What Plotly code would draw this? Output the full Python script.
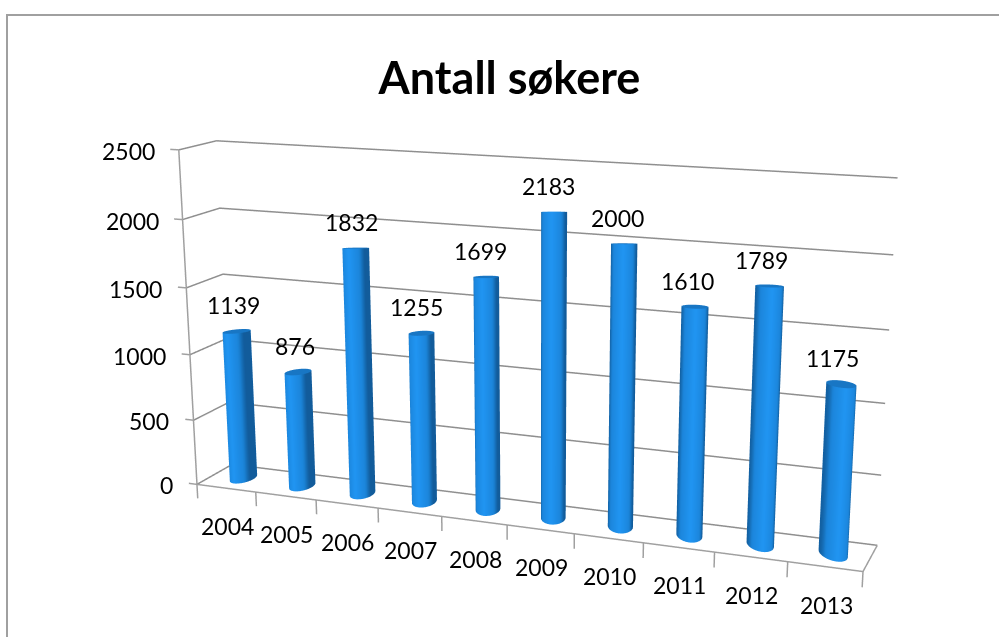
import numpy as np
import plotly.graph_objects as go

years = ["2004","2005","2006","2007","2008","2009","2010","2011","2012","2013"]
values = [1139,876,1832,1255,1699,2183,2000,1610,1789,1175]
z_ticks = [0,500,1000,1500,2000,2500]
W,H = 999,637

# camera and box shape fitted to the corners of the reference's 3-D box
eye=dict(x=0.1574,y=-1.1127,z=0.1725)
center=dict(x=-0.0308,y=0.0002,z=0.0359)
depth_scale,height_scale=0.0519,0.5227
shear_xy,shear_xz,shear_zx,shear_zy=0.0328,-0.0030,-0.0674,0.0183

def P(cat,depth,val):
    ux=(cat+0.5)/10-0.5;uy=depth-0.5;uz=val/2500-0.5
    return np.array([ux+shear_xy*uy+shear_xz*uz,uy*depth_scale,uz*height_scale+shear_zx*ux+shear_zy*uy])

fig=go.Figure()
rw=0.0185
q=1.5
n=48
def lerp(a,b,t): return tuple(a[i]+(b[i]-a[i])*t for i in range(3))
dark=(18,92,155);mid=(28,134,220);bright=(33,150,243)
def shade(t):
    t=abs(t+0.05)
    if t>0.72:
        return lerp(mid,dark,min(1,(t-0.72)/0.26))
    return lerp(bright,mid,t/0.72)
th=np.linspace(0,2*np.pi,n,endpoint=False)
for i,v in enumerate(values):
    base=P(i,0.5,0);top=P(i,0.5,v)
    dx=rw*np.cos(th);dy=rw*q*np.sin(th)
    cols=[f"rgb({int(a)},{int(b)},{int(c_)})" for a,b,c_ in map(shade,np.cos(th))]
    X=list(base[0]+dx)+list(top[0]+dx)+list(top[0]+dx)+[top[0]]
    Y=list(base[1]+dy)+list(top[1]+dy)+list(top[1]+dy)+[top[1]]
    Z=[base[2]]*n+[top[2]]*n+[top[2]]*n+[top[2]]
    vc=cols+cols+["rgb(24,118,196)"]*(n+1)
    I=[];J_=[];K=[]
    for a in range(n):
        b=(a+1)%n
        I+=[a,b];J_+=[b,b+n];K+=[a+n,a+n]
        I.append(2*n+a);J_.append(2*n+b);K.append(3*n)
    fig.add_trace(go.Mesh3d(x=X,y=Y,z=Z,i=I,j=J_,k=K,vertexcolor=vc,flatshading=False,showscale=False,hoverinfo="skip",
        lighting=dict(ambient=1,diffuse=0,specular=0,roughness=1,fresnel=0)))

grid="#8f8f8f"
tickc="#a0a0a0"
def seg(pts,c=grid,wd=3):
    a=np.array(pts)
    fig.add_trace(go.Scatter3d(x=a[:,0],y=a[:,1],z=a[:,2],mode="lines",line=dict(color=c,width=wd),hoverinfo="skip",showlegend=False))
for t in z_ticks:
    seg([P(-0.5,0,t),P(-0.5,1,t),P(9.5,1,t)])
    seg([P(-0.64,0,t),P(-0.5,0,t)],tickc)
seg([P(-0.5,0,0),P(-0.5,0,2500)],tickc)
seg([P(-0.5,0,0),P(9.5,0,0),P(9.5,1,0)],tickc)
for k in range(11):
    seg([P(k-0.5,0,0),P(k-0.5,0,-110)],tickc)

ann=[]
fs=23
col="#000000"
def A(p,text,**kw):
    ann.append(dict(x=p[0],y=p[1],z=p[2],text=text,showarrow=False,font=dict(family="Lato",size=fs,color=col),**kw))
for i,v in enumerate(values):
    A(P(i,0.5,v),str(v),xshift=-3-0.6*i,yshift=26)
for i,y_ in enumerate(years):
    A(P(i,0,0),y_,xshift=1,yshift=-38)
for t in z_ticks:
    A(P(-0.5,0,t),str(t),xanchor="right",xshift=-22,yshift=-1)

ax=dict(visible=False,showspikes=False)
rng=[-1.5,1.5]
fig.update_layout(width=W,height=H,margin=dict(l=0,r=0,t=0,b=0),paper_bgcolor="white",showlegend=False,
    title=dict(text="<b>Antall søkere</b>",x=0.51,xanchor="center",y=0.8775,yanchor="middle",font=dict(family="Lato",size=45,color="#000")),
    shapes=[dict(type="rect",xref="paper",yref="paper",x0=7/W,x1=1.02,y0=-0.02,y1=1-15/H,line=dict(color="#a0a0a0",width=2))],
    scene=dict(domain=dict(x=[0,1],y=[0,1]),aspectmode="manual",aspectratio=dict(x=3,y=3,z=3),
        camera=dict(eye=eye,center=center,up=dict(x=0,y=0,z=1),projection=dict(type="perspective")),
        xaxis=dict(range=rng,**ax),yaxis=dict(range=rng,**ax),zaxis=dict(range=rng,**ax),
        annotations=ann))
fig.write_html("out.html",config={"displayModeBar":False},post_script="document.body.style.margin='0';document.body.style.overflow='hidden';")
